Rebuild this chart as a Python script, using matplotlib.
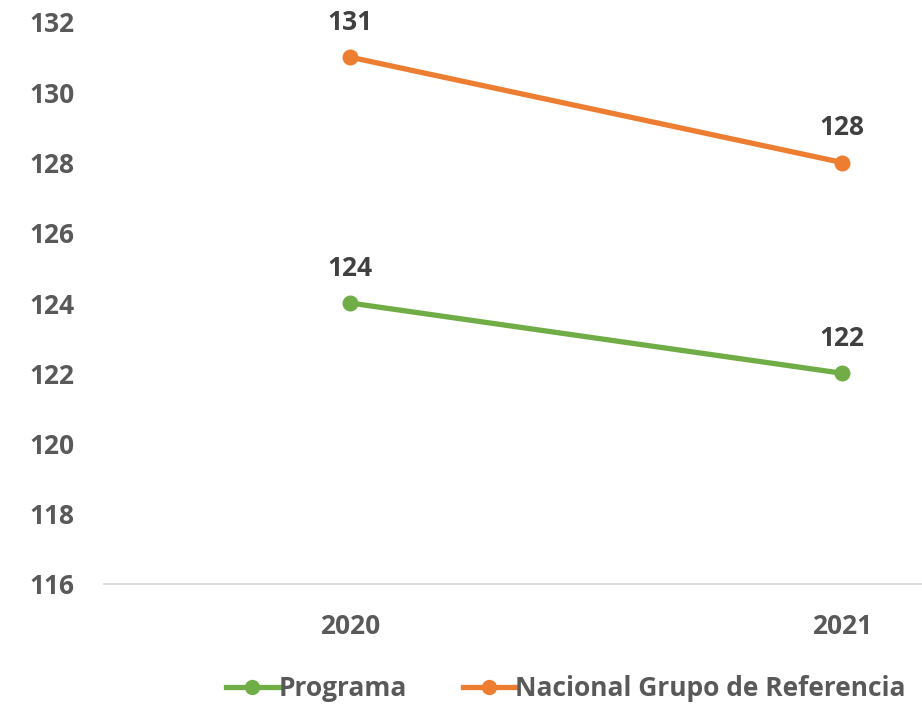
import matplotlib
matplotlib.use("Agg")
import matplotlib.pyplot as plt
from matplotlib.lines import Line2D

# data
years = ["2020", "2021"]
programa = [124, 122]
nacional = [131, 128]
series_names = ["Programa", "Nacional Grupo de Referencia"]
yticks = [116, 118, 120, 122, 124, 126, 128, 130, 132]

green = "#70AD47"
orange = "#ED7D31"
tick_color = "#595959"
label_color = "#404040"

plt.rcParams["font.family"] = ["Open Sans", "DejaVu Sans"]
plt.rcParams["font.weight"] = "bold"

fig = plt.figure(figsize=(9.22, 7.04), dpi=100)
fig.patch.set_facecolor("white")

# plot area runs past the right edge of the figure
left, right = 104 / 922, 1088 / 922
bottom, top = 1 - 584 / 704, 1 - 22 / 704
ax = fig.add_axes([left, bottom, right - left, top - bottom])
ax.set_facecolor("none")

x = range(len(years))
for vals, col in [(programa, green), (nacional, orange)]:
    ax.plot(x, vals, color=col, lw=3.8, marker="o", ms=10.5,
            solid_capstyle="round", zorder=3, clip_on=False)
    for xi, v in zip(x, vals):
        ax.annotate(str(v), (xi, v), xytext=(0, 25), textcoords="offset points",
                    ha="center", va="center", fontsize=19, fontweight="bold",
                    color=label_color)

ax.set_xlim(-0.5, 1.5)
ax.set_ylim(116, 132)
ax.set_yticks(yticks)
ax.set_yticklabels([str(t) for t in yticks])
ax.set_xticks(list(x))
ax.set_xticklabels(years)

for s in ["top", "right", "left"]:
    ax.spines[s].set_visible(False)
ax.spines["bottom"].set_color("#D9D9D9")
ax.spines["bottom"].set_linewidth(1.3)
ax.tick_params(axis="both", length=0, labelsize=19, colors=tick_color)
ax.tick_params(axis="y", pad=21)
ax.tick_params(axis="x", pad=21)
for lab in ax.get_xticklabels() + ax.get_yticklabels():
    lab.set_fontweight("bold")

handles = [Line2D([], [], color=green, lw=3.8, marker="o", ms=10),
           Line2D([], [], color=orange, lw=3.8, marker="o", ms=10)]
leg = fig.legend(handles, series_names, loc="center", bbox_to_anchor=(566 / 922, 1 - 689 / 704),
                 ncol=2, frameon=False, fontsize=19, handlelength=2.0,
                 handletextpad=0.0, columnspacing=2.1)
for t in leg.get_texts():
    t.set_color(tick_color)
    t.set_fontweight("bold")

fig.savefig("out.png", dpi=100)
